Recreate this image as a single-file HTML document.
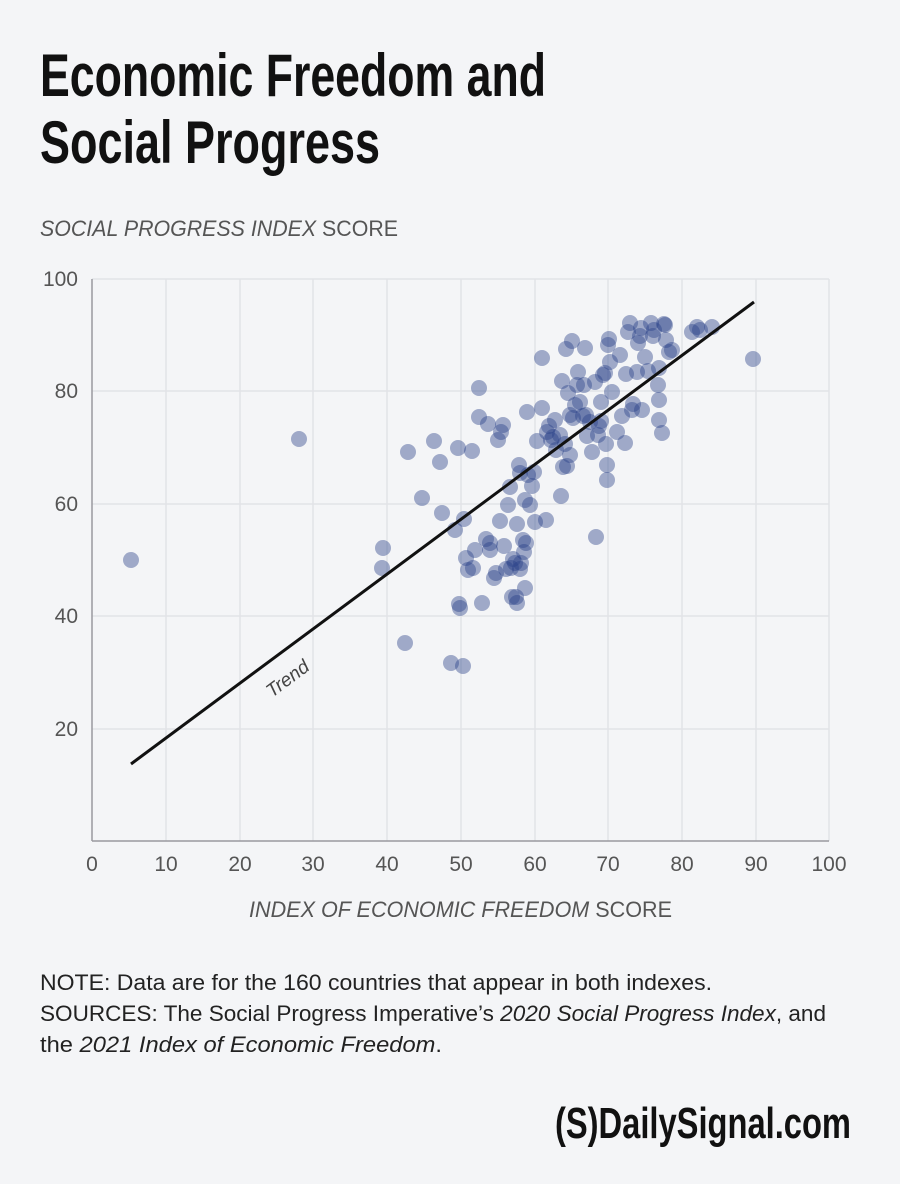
<!DOCTYPE html>
<html><head><meta charset="utf-8"><style>
html,body{margin:0;padding:0;background:#f4f5f7;}
svg{display:block;font-family:"Liberation Sans",sans-serif;}
</style></head><body>
<svg width="900" height="1184" viewBox="0 0 900 1184" xmlns="http://www.w3.org/2000/svg">
<rect width="900" height="1184" fill="#f4f5f7"/>
<text x="40" y="96" font-family="Liberation Sans Narrow, Liberation Sans, sans-serif" font-weight="bold" font-size="60" fill="#111" textLength="506" lengthAdjust="spacingAndGlyphs">Economic Freedom and</text>
<text x="40" y="163" font-family="Liberation Sans Narrow, Liberation Sans, sans-serif" font-weight="bold" font-size="60" fill="#111" textLength="340" lengthAdjust="spacingAndGlyphs">Social Progress</text>
<text x="40" y="236" font-size="22" fill="#555" textLength="358" lengthAdjust="spacingAndGlyphs"><tspan font-style="italic">SOCIAL PROGRESS INDEX</tspan> SCORE</text>
<g stroke="#e2e3e7" stroke-width="1.5">
<line x1="166" y1="279" x2="166" y2="841"/><line x1="240" y1="279" x2="240" y2="841"/><line x1="313" y1="279" x2="313" y2="841"/><line x1="387" y1="279" x2="387" y2="841"/><line x1="461" y1="279" x2="461" y2="841"/><line x1="535" y1="279" x2="535" y2="841"/><line x1="608" y1="279" x2="608" y2="841"/><line x1="682" y1="279" x2="682" y2="841"/><line x1="756" y1="279" x2="756" y2="841"/><line x1="829" y1="279" x2="829" y2="841"/>
<line x1="92" y1="279" x2="829" y2="279"/><line x1="92" y1="391" x2="829" y2="391"/><line x1="92" y1="504" x2="829" y2="504"/><line x1="92" y1="616" x2="829" y2="616"/><line x1="92" y1="729" x2="829" y2="729"/>
</g>
<g stroke="#9a9a9f" stroke-width="1.5"><line x1="92" y1="279" x2="92" y2="841"/><line x1="92" y1="841" x2="829" y2="841"/></g>
<g font-size="21" fill="#555" text-anchor="end">
<text x="78" y="286">100</text><text x="78" y="398">80</text><text x="78" y="511">60</text><text x="78" y="623">40</text><text x="78" y="736">20</text>
</g>
<g font-size="21" fill="#555" text-anchor="middle">
<text x="92" y="871">0</text><text x="166" y="871">10</text><text x="240" y="871">20</text><text x="313" y="871">30</text><text x="387" y="871">40</text><text x="461" y="871">50</text><text x="535" y="871">60</text><text x="608" y="871">70</text><text x="682" y="871">80</text><text x="756" y="871">90</text><text x="829" y="871">100</text>
</g>
<text x="249" y="917" font-size="22" fill="#555" textLength="423" lengthAdjust="spacingAndGlyphs"><tspan font-style="italic">INDEX OF ECONOMIC FREEDOM</tspan> SCORE</text>
<g fill="rgb(40,65,135)" fill-opacity="0.42">
<circle cx="131" cy="560" r="8"/><circle cx="299" cy="439" r="8"/><circle cx="382" cy="568" r="8"/><circle cx="383" cy="548" r="8"/><circle cx="405" cy="643" r="8"/><circle cx="408" cy="452" r="8"/><circle cx="422" cy="498" r="8"/><circle cx="434" cy="441" r="8"/><circle cx="440" cy="462" r="8"/><circle cx="442" cy="513" r="8"/><circle cx="451" cy="663" r="8"/><circle cx="455" cy="530" r="8"/><circle cx="458" cy="448" r="8"/><circle cx="459" cy="604" r="8"/><circle cx="460" cy="608" r="8"/><circle cx="463" cy="666" r="8"/><circle cx="464" cy="519" r="8"/><circle cx="466" cy="558" r="8"/><circle cx="468" cy="570" r="8"/><circle cx="472" cy="451" r="8"/><circle cx="473" cy="568" r="8"/><circle cx="475" cy="550" r="8"/><circle cx="479" cy="388" r="8"/><circle cx="479" cy="417" r="8"/><circle cx="482" cy="603" r="8"/><circle cx="486" cy="539" r="8"/><circle cx="488" cy="424" r="8"/><circle cx="490" cy="543" r="8"/><circle cx="490" cy="550" r="8"/><circle cx="494" cy="578" r="8"/><circle cx="496" cy="573" r="8"/><circle cx="498" cy="440" r="8"/><circle cx="500" cy="521" r="8"/><circle cx="501" cy="432" r="8"/><circle cx="503" cy="425" r="8"/><circle cx="504" cy="546" r="8"/><circle cx="506" cy="569" r="8"/><circle cx="508" cy="505" r="8"/><circle cx="510" cy="487" r="8"/><circle cx="511" cy="568" r="8"/><circle cx="512" cy="597" r="8"/><circle cx="513" cy="559" r="8"/><circle cx="515" cy="563" r="8"/><circle cx="516" cy="597" r="8"/><circle cx="517" cy="603" r="8"/><circle cx="517" cy="524" r="8"/><circle cx="519" cy="465" r="8"/><circle cx="520" cy="473" r="8"/><circle cx="520" cy="569" r="8"/><circle cx="521" cy="563" r="8"/><circle cx="523" cy="540" r="8"/><circle cx="524" cy="552" r="8"/><circle cx="525" cy="588" r="8"/><circle cx="525" cy="500" r="8"/><circle cx="526" cy="543" r="8"/><circle cx="527" cy="412" r="8"/><circle cx="528" cy="475" r="8"/><circle cx="530" cy="505" r="8"/><circle cx="532" cy="486" r="8"/><circle cx="534" cy="472" r="8"/><circle cx="535" cy="522" r="8"/><circle cx="537" cy="441" r="8"/><circle cx="542" cy="358" r="8"/><circle cx="542" cy="408" r="8"/><circle cx="546" cy="520" r="8"/><circle cx="547" cy="432" r="8"/><circle cx="549" cy="426" r="8"/><circle cx="551" cy="440" r="8"/><circle cx="553" cy="437" r="8"/><circle cx="555" cy="420" r="8"/><circle cx="556" cy="450" r="8"/><circle cx="560" cy="435" r="8"/><circle cx="561" cy="496" r="8"/><circle cx="562" cy="381" r="8"/><circle cx="563" cy="467" r="8"/><circle cx="565" cy="444" r="8"/><circle cx="566" cy="349" r="8"/><circle cx="567" cy="466" r="8"/><circle cx="568" cy="393" r="8"/><circle cx="570" cy="415" r="8"/><circle cx="570" cy="455" r="8"/><circle cx="572" cy="341" r="8"/><circle cx="573" cy="418" r="8"/><circle cx="575" cy="405" r="8"/><circle cx="577" cy="385" r="8"/><circle cx="578" cy="372" r="8"/><circle cx="580" cy="402" r="8"/><circle cx="583" cy="416" r="8"/><circle cx="584" cy="385" r="8"/><circle cx="585" cy="348" r="8"/><circle cx="586" cy="415" r="8"/><circle cx="587" cy="436" r="8"/><circle cx="590" cy="422" r="8"/><circle cx="592" cy="452" r="8"/><circle cx="595" cy="382" r="8"/><circle cx="596" cy="537" r="8"/><circle cx="598" cy="435" r="8"/><circle cx="599" cy="426" r="8"/><circle cx="601" cy="421" r="8"/><circle cx="601" cy="402" r="8"/><circle cx="603" cy="375" r="8"/><circle cx="605" cy="373" r="8"/><circle cx="606" cy="444" r="8"/><circle cx="607" cy="465" r="8"/><circle cx="607" cy="480" r="8"/><circle cx="608" cy="345" r="8"/><circle cx="609" cy="339" r="8"/><circle cx="610" cy="362" r="8"/><circle cx="612" cy="392" r="8"/><circle cx="617" cy="432" r="8"/><circle cx="620" cy="355" r="8"/><circle cx="622" cy="416" r="8"/><circle cx="625" cy="443" r="8"/><circle cx="626" cy="374" r="8"/><circle cx="628" cy="332" r="8"/><circle cx="630" cy="323" r="8"/><circle cx="632" cy="410" r="8"/><circle cx="633" cy="404" r="8"/><circle cx="637" cy="372" r="8"/><circle cx="638" cy="343" r="8"/><circle cx="640" cy="336" r="8"/><circle cx="641" cy="328" r="8"/><circle cx="642" cy="410" r="8"/><circle cx="645" cy="357" r="8"/><circle cx="648" cy="371" r="8"/><circle cx="651" cy="323" r="8"/><circle cx="653" cy="336" r="8"/><circle cx="654" cy="330" r="8"/><circle cx="658" cy="385" r="8"/><circle cx="659" cy="400" r="8"/><circle cx="659" cy="420" r="8"/><circle cx="662" cy="433" r="8"/><circle cx="665" cy="325" r="8"/><circle cx="666" cy="340" r="8"/><circle cx="669" cy="352" r="8"/><circle cx="672" cy="350" r="8"/><circle cx="692" cy="332" r="8"/><circle cx="697" cy="327" r="8"/><circle cx="700" cy="330" r="8"/><circle cx="712" cy="327" r="8"/><circle cx="753" cy="359" r="8"/><circle cx="659" cy="368" r="8"/><circle cx="664" cy="324" r="8"/>
</g>
<line x1="131" y1="764" x2="754" y2="302" stroke="#111" stroke-width="3"/>
<text x="0" y="0" font-size="19" font-style="italic" fill="#444" transform="translate(272,698) rotate(-36.6)">Trend</text>
<g font-size="22" fill="#222">
<text x="40" y="990" textLength="672" lengthAdjust="spacingAndGlyphs">NOTE: Data are for the 160 countries that appear in both indexes.</text>
<text x="40" y="1021" textLength="786" lengthAdjust="spacingAndGlyphs">SOURCES: The Social Progress Imperative’s <tspan font-style="italic">2020 Social Progress Index</tspan>, and</text>
<text x="40" y="1052" textLength="402" lengthAdjust="spacingAndGlyphs">the <tspan font-style="italic">2021 Index of Economic Freedom</tspan>.</text>
</g>
<text x="555" y="1138" font-family="Liberation Sans Narrow, Liberation Sans, sans-serif" font-weight="bold" font-size="44" fill="#111" textLength="296" lengthAdjust="spacingAndGlyphs">(S)DailySignal.com</text>
</svg>
</body></html>
